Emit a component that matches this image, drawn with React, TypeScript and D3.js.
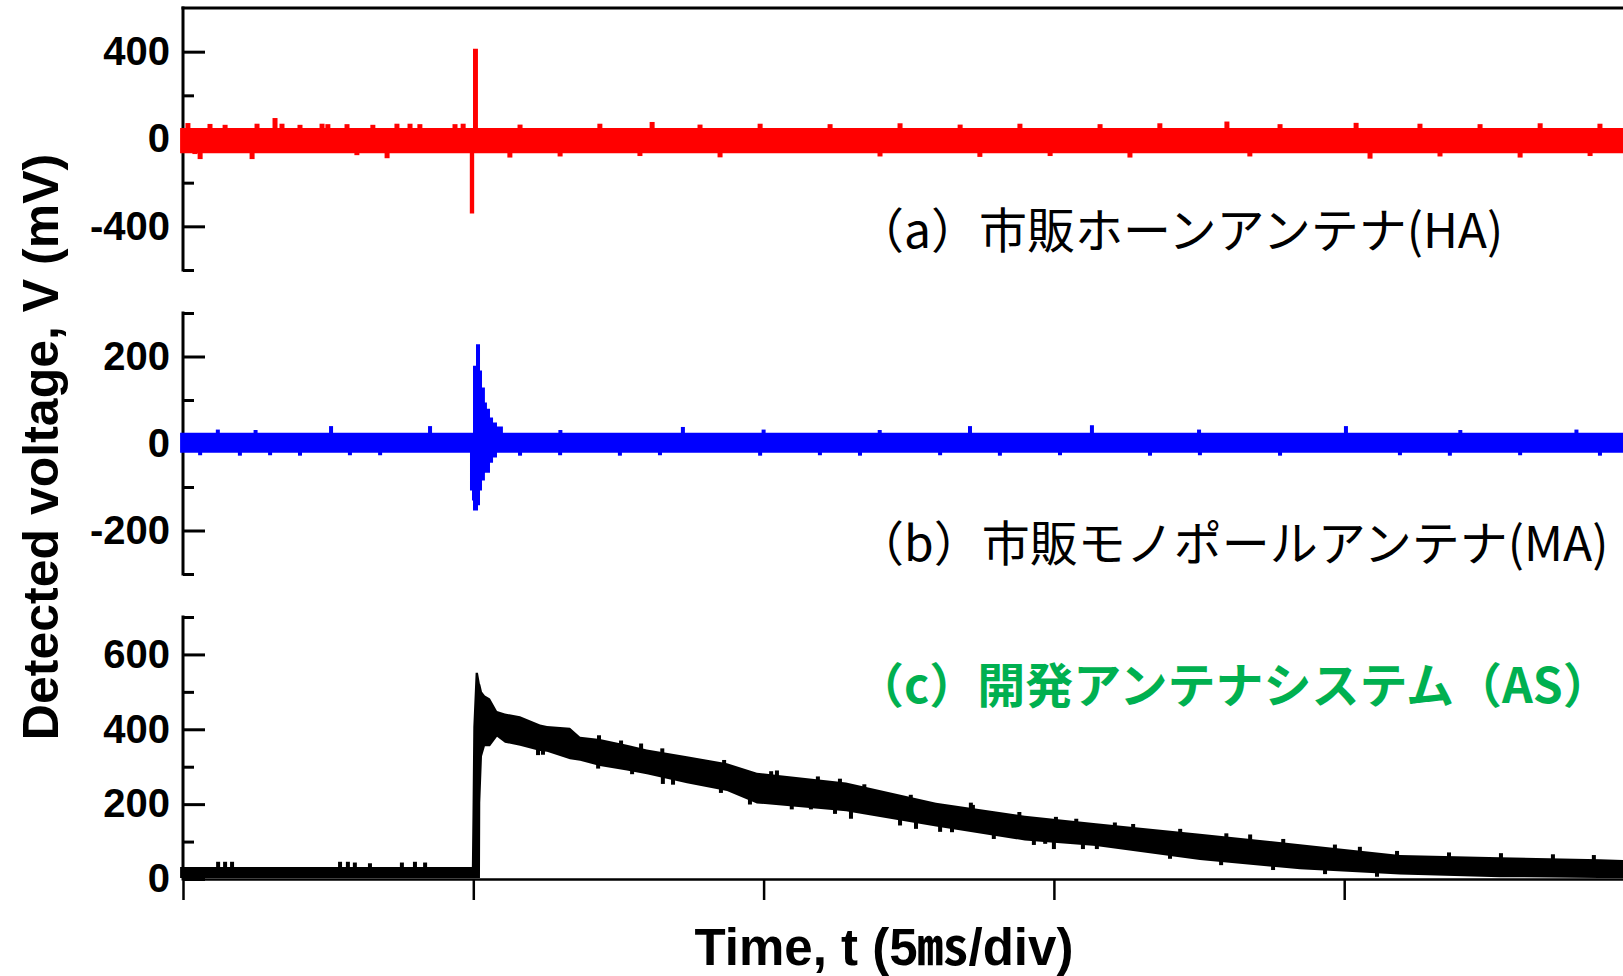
import React, { useEffect, useRef } from 'react';
import * as d3 from 'd3';

const W = 1623;
const H = 976;

// time axis in divisions (5 ms/div)
const divTicks = [0, 1, 2, 3, 4, 5];

// (a) horn antenna, red trace envelope: [t(div), upper mV, lower mV]
const haEnvelope: [number, number, number][] = [
  [-0.01, 50, -65],
  [0.987, 50, -65],
  [0.988, 50, -341],
  [0.999, 413, -341],
  [1.003, 413, -65],
  [1.016, 50, -65],
  [5.0, 50, -65],
];
// noise spikes [t, tip mV]
const haSpikes: [number, number][] = [
  [0.017, 73], [0.093, 69], [0.145, 65], [0.255, 70], [0.317, 96], [0.341, 70],
  [0.403, 65], [0.479, 70], [0.499, 68], [0.565, 68], [0.654, 65], [0.737, 70],
  [0.782, 70], [0.816, 68], [0.937, 68], [0.965, 70], [1.161, 66], [1.436, 70],
  [1.616, 78], [1.781, 66], [1.988, 70], [2.229, 68], [2.47, 72], [2.677, 66],
  [2.883, 70], [3.159, 68], [3.365, 72], [3.596, 80], [3.779, 68], [4.041, 74],
  [4.261, 70], [4.468, 68], [4.675, 72], [4.881, 70],
  [0.041, -69], [0.059, -92], [0.238, -92], [0.599, -74], [0.703, -88], [1.126, -85],
  [1.299, -80], [1.574, -78], [1.85, -84], [2.401, -80], [2.745, -82], [2.987, -78],
  [3.262, -85], [3.675, -80], [4.089, -90], [4.33, -80], [4.606, -85], [4.847, -78],
];

// (b) monopole antenna, blue trace envelope
const maEnvelope: [number, number, number][] = [
  [-0.01, 25, -21],
  [0.988, 25, -21],
  [0.9886, 25, -108],
  [0.9955, 25, -131],
  [0.999, 179, -154],
  [1.0093, 228, -154],
  [1.0162, 228, -142],
  [1.0231, 168, -108],
  [1.03, 129, -85],
  [1.04, 94, -67],
  [1.047, 80, -67],
  [1.0575, 60, -44],
  [1.068, 48, -32],
  [1.0816, 39, -21],
  [1.102, 25, -21],
  [5.0, 25, -21],
];
const maSpikes: [number, number][] = [
  [0.51, 40], [0.851, 40], [1.722, 38], [2.711, 40], [3.131, 42], [4.006, 40],
  [0.12, 32], [0.25, 31], [1.3, 31], [2.0, 32], [2.4, 31], [3.5, 32], [4.4, 31], [4.8, 32],
  [0.059, -27], [0.196, -28], [0.3, -27], [0.403, -28], [0.575, -27], [0.679, -27],
  [1.161, -28], [1.299, -27], [1.505, -28], [1.643, -27], [1.988, -28], [2.194, -27],
  [2.332, -28], [2.608, -27], [2.814, -28], [3.021, -27], [3.331, -28], [3.503, -27],
  [3.779, -28], [4.192, -27], [4.364, -28], [4.606, -27], [4.881, -28],
];

// (c) developed antenna system, black trace envelope
const asEnvelope: [number, number, number][] = [
  [-0.01, 32, 3],
  [0.995, 32, 3],
  [0.997, 167, 3],
  [1.0, 406, 3],
  [1.008, 551, 3],
  [1.016, 551, 3],
  [1.023, 520, 3],
  [1.024, 520, 204],
  [1.03, 500, 328],
  [1.04, 490, 355],
  [1.0575, 482, 355],
  [1.0817, 449, 380],
  [1.109, 442, 364],
  [1.161, 435, 356],
  [1.23, 413, 342],
  [1.254, 409, 340],
  [1.333, 404, 320],
  [1.368, 380, 316],
  [1.436, 374, 302],
  [1.529, 359, 290],
  [1.598, 346, 280],
  [1.736, 328, 256],
  [1.874, 309, 235],
  [1.977, 284, 202],
  [2.284, 258, 181],
  [2.594, 204, 140],
  [2.9, 169, 103],
  [3.145, 149, 88],
  [3.503, 121, 51],
  [3.848, 93, 26],
  [4.192, 64, 12],
  [4.537, 58, 5],
  [4.881, 53, 3],
  [5.0, 50, 3],
];
const asSpikes: [number, number][] = [
  [0.121, 46], [0.145, 46], [0.169, 46], [0.541, 46], [0.568, 46], [0.592, 44],
  [0.644, 42], [0.754, 44], [0.799, 46], [0.834, 44],
  [1.433, 384], [1.578, 362], [1.864, 318], [2.046, 290], [2.263, 268], [2.714, 204],
  [3.007, 166], [3.21, 151], [3.676, 119], [4.054, 86],
  [1.509, 370], [1.651, 349], [2.026, 288], [2.187, 274], [2.347, 253], [2.507, 225],
  [2.721, 198], [2.881, 179], [3.077, 161], [3.273, 147], [3.435, 134], [3.594, 122],
  [3.79, 107], [3.968, 92], [4.182, 75], [4.361, 71], [4.54, 69], [4.719, 66], [4.86, 64],
  [1.24, 332], [1.547, 280], [1.653, 254], [1.853, 230], [2.163, 186], [2.246, 174],
  [2.301, 161], [2.525, 134], [2.608, 126], [2.931, 91], [3.0, 80], [3.1, 80],
  [1.223, 331], [1.43, 295], [1.688, 252], [1.953, 199], [2.097, 186], [2.47, 143],
  [2.649, 125], [2.793, 107], [2.97, 94], [3.148, 80], [3.4, 54], [3.576, 37],
  [3.755, 24], [3.934, 13], [4.113, 6],
];

// axis ticks per panel (mV)
const haMajor = [-400, 0, 400];
const haMinor = [-600, -200, 200];
const maMajor = [-200, 0, 200];
const maMinor = [-300, -100, 100, 300];
const asMajor = [0, 200, 400, 600];
const asMinor = [100, 300, 500, 700];

const labelA = '（a）市販ホーンアンテナ(HA)';
const labelB = '（b）市販モノポールアンテナ(MA)';
const labelC = '（c）開発アンテナシステム（AS）';

const latin = '"Liberation Sans", Arial, "Noto Sans CJK JP", sans-serif';
const cjk = '"Noto Sans CJK JP", sans-serif';

export default function App() {
  const ref = useRef<SVGSVGElement>(null);

  useEffect(() => {
    const svg = d3.select(ref.current);
    svg.selectAll('*').remove();

    const axisX = 183;
    const x = d3.scaleLinear().domain([0, 5]).range([axisX, axisX + 5 * 290.3]);

    const panels = [
      { env: haEnvelope, spikes: haSpikes, domain: [-600, 600], range: [270, 8], major: haMajor, minor: haMinor, color: '#ff0000', curve: d3.curveStepAfter, sw: 5 },
      { env: maEnvelope, spikes: maSpikes, domain: [-300, 300], range: [574, 313], major: maMajor, minor: maMinor, color: '#0000ff', curve: d3.curveStepAfter, sw: 4 },
      { env: asEnvelope, spikes: asSpikes, domain: [0, 700], range: [879, 617], major: asMajor, minor: asMinor, color: '#000000', curve: d3.curveLinear, sw: 4 },
    ];

    // axes
    panels.forEach(p => {
      const y = d3.scaleLinear().domain(p.domain).range(p.range);
      const g = svg.append('g').attr('transform', `translate(${axisX},0)`);
      g.append('g')
        .call(d3.axisLeft(y).tickValues(p.major).tickSizeInner(-22).tickSizeOuter(0).tickPadding(13).tickFormat(d => String(d)))
        .call(s => s.select('.domain').remove())
        .call(s => s.selectAll('line').attr('stroke', '#000').attr('stroke-width', 3))
        .call(s => s.selectAll('text')
          .attr('fill', '#000')
          .style('font-family', latin)
          .style('font-weight', 'bold')
          .style('font-size', '40px'));
      g.append('g')
        .call(d3.axisLeft(y).tickValues(p.minor).tickSizeInner(-11).tickSizeOuter(0).tickFormat(() => ''))
        .call(s => s.select('.domain').remove())
        .call(s => s.selectAll('line').attr('stroke', '#000').attr('stroke-width', 3));
      g.append('line')
        .attr('x1', 0).attr('x2', 0)
        .attr('y1', p.range[1] - 1.5).attr('y2', p.range[0] + 1.5)
        .attr('stroke', '#000').attr('stroke-width', 3);
    });

    // top frame line of panel (a)
    svg.append('line')
      .attr('x1', axisX - 1.5).attr('x2', W)
      .attr('y1', 8).attr('y2', 8)
      .attr('stroke', '#000').attr('stroke-width', 3);

    // time axis
    svg.append('g')
      .attr('transform', 'translate(0,879)')
      .call(d3.axisBottom(x).tickValues(divTicks).tickSizeInner(21).tickSizeOuter(0).tickFormat(() => ''))
      .call(s => s.select('.domain').attr('stroke', '#000').attr('stroke-width', 2.5))
      .call(s => s.selectAll('line').attr('stroke', '#000').attr('stroke-width', 2.5));

    // traces
    panels.forEach(p => {
      const y = d3.scaleLinear().domain(p.domain).range(p.range);
      const area = d3.area<[number, number, number]>()
        .x(d => x(d[0]))
        .y0(d => y(d[2]))
        .y1(d => y(d[1]))
        .curve(p.curve);
      svg.append('path').datum(p.env).attr('d', area).attr('fill', p.color);

      const mid = d3.scaleLinear()
        .domain(p.env.map(d => d[0]))
        .range(p.env.map(d => (d[1] + d[2]) / 2));
      svg.append('g')
        .selectAll('rect')
        .data(p.spikes)
        .join('rect')
        .attr('x', d => x(d[0]) - p.sw / 2)
        .attr('width', p.sw)
        .attr('y', d => Math.min(y(d[1]), y(mid(d[0]))))
        .attr('height', d => Math.abs(y(d[1]) - y(mid(d[0]))))
        .attr('fill', p.color);
    });

    // axis titles
    svg.append('text')
      .attr('transform', 'translate(58,447) rotate(-90)')
      .attr('text-anchor', 'middle')
      .style('font-family', latin)
      .style('font-weight', 'bold')
      .style('font-size', '50px')
      .text('Detected voltage, V (mV)');

    svg.append('text')
      .attr('x', 884).attr('y', 965)
      .attr('text-anchor', 'middle')
      .style('font-family', latin)
      .style('font-weight', 'bold')
      .style('font-size', '51px')
      .text('Time, t (5㎳/div)');

    // panel labels
    const labels = [
      { text: labelA, y: 248, color: '#000', weight: 'normal' },
      { text: labelB, y: 561, color: '#000', weight: 'normal' },
      { text: labelC, y: 703, color: '#00b050', weight: 'bold' },
    ];
    labels.forEach(l => {
      svg.append('text')
        .attr('x', 856).attr('y', l.y)
        .attr('fill', l.color)
        .style('font-family', cjk)
        .style('font-weight', l.weight)
        .style('font-size', '48px')
        .text(l.text);
    });
  }, []);

  return (
    <svg
      ref={ref}
      width={W}
      height={H}
      style={{ position: 'absolute', left: 0, top: 0, background: '#fff' }}
    />
  );
}
